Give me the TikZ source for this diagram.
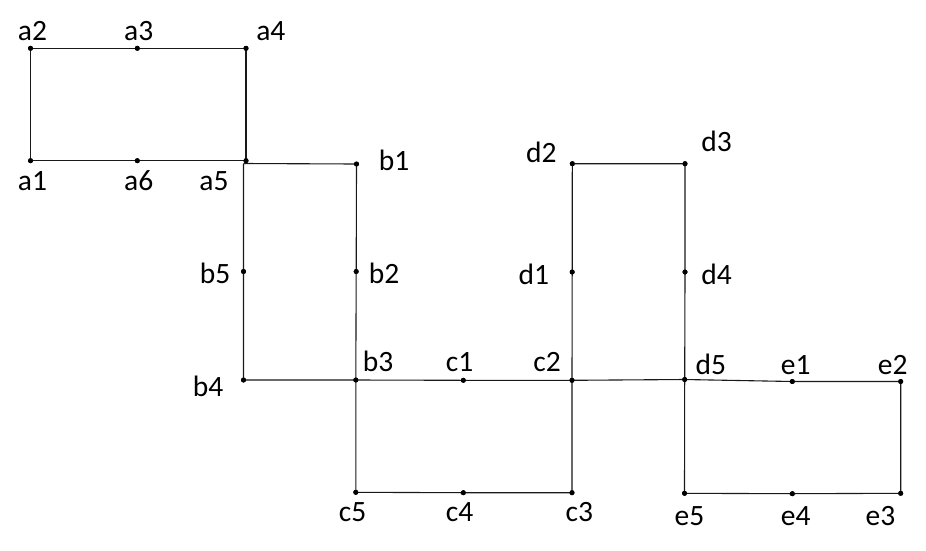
\documentclass[tikz,border=0pt]{standalone}
\usepackage{fontspec}
\setmainfont{Carlito}
\begin{document}
\begin{tikzpicture}[x=1pt,y=-1pt,
  pt/.style={circle,fill=black,inner sep=0pt,minimum size=5pt},
  lbl/.style={anchor=base,inner sep=0pt,font=\fontsize{29.5}{34}\selectfont},
  edge/.style={draw=black!90,line width=1.1pt}]
\useasboundingbox (0,0) rectangle (926,550);
% points
\node[pt] (a1) at (30.5,160.7) {};
\node[pt] (a2) at (30.5,48.3) {};
\node[pt] (a3) at (137.3,48.3) {};
\node[pt] (a4) at (246,48.3) {};
\node[pt] (a5) at (246,160.7) {};
\node[pt] (a6) at (137.3,160.7) {};
\coordinate (bc) at (243.5,163.5);
\node[pt] (b1) at (356.5,164) {};
\node[pt] (b2) at (356.2,271.5) {};
\node[pt] (b3) at (355.8,380) {};
\node[pt] (b4) at (243.5,380) {};
\node[pt] (b5) at (243.5,271.5) {};
\node[pt] (c1) at (463.3,380.3) {};
\node[pt] (c2) at (572,380.3) {};
\node[pt] (c3) at (572,492.7) {};
\node[pt] (c4) at (463.3,492.7) {};
\node[pt] (c5) at (355.8,492.3) {};
\node[pt] (d1) at (572.2,272) {};
\node[pt] (d2) at (572.3,163.7) {};
\node[pt] (d3) at (685,163.7) {};
\node[pt] (d4) at (685,272) {};
\node[pt] (d5) at (684.7,379.5) {};
\node[pt] (e1) at (792.3,381.5) {};
\node[pt] (e2) at (900.7,381.5) {};
\node[pt] (e3) at (900.7,493.3) {};
\node[pt] (e4) at (792.3,493.7) {};
\node[pt] (e5) at (684.5,493.3) {};
% edges
\draw[edge] (a1.center) -- (a2.center) -- (a3.center) -- (a4.center) -- (a5.center) -- (a6.center) -- (a1.center);
\draw[edge] (bc) -- (b1.center) -- (b2.center) -- (b3.center) -- (b4.center) -- (b5.center) -- (bc);
\draw[edge] (b3.center) -- (c1.center) -- (c2.center) -- (c3.center) -- (c4.center) -- (c5.center) -- (b3.center);
\draw[edge] (c2.center) -- (d1.center) -- (d2.center) -- (d3.center) -- (d4.center) -- (d5.center) -- (c2.center);
\draw[edge] (d5.center) -- (e1.center) -- (e2.center) -- (e3.center) -- (e4.center) -- (e5.center) -- (d5.center);
% redraw dots on top
\foreach \p in {a1,a2,a3,a4,a5,a6,b1,b2,b3,b4,b5,c1,c2,c3,c4,c5,d1,d2,d3,d4,d5,e1,e2,e3,e4,e5}
  \fill (\p) circle (2.5pt);
% labels
\node[lbl] (la2) at (32.5,40) {a2};
\node[lbl] (la3) at (138.7,40) {a3};
\node[lbl] (la4) at (270.8,40) {a4};
\node[lbl] (la1) at (32.5,190) {a1};
\node[lbl] (la6) at (138.7,190) {a6};
\node[lbl] (la5) at (214,190) {a5};
\node[lbl] (lb1) at (394,170.7) {b1};
\node[lbl] (lb5) at (215,283.3) {b5};
\node[lbl] (lb2) at (384,283.3) {b2};
\node[lbl] (lb3) at (378,371.7) {b3};
\node[lbl] (lb4) at (208,396) {b4};
\node[lbl] (lc1) at (459.7,371.7) {c1};
\node[lbl] (lc2) at (547,371.7) {c2};
\node[lbl] (lc5) at (352.7,521.7) {c5};
\node[lbl] (lc4) at (459.7,521.7) {c4};
\node[lbl] (lc3) at (579.3,521.7) {c3};
\node[lbl] (ld2) at (541.3,162.7) {d2};
\node[lbl] (ld3) at (716.7,151.7) {d3};
\node[lbl] (ld1) at (533.8,284) {d1};
\node[lbl] (ld4) at (716.7,284) {d4};
\node[lbl] (ld5) at (710.8,374) {d5};
\node[lbl] (le1) at (795.7,374) {e1};
\node[lbl] (le2) at (892.8,374) {e2};
\node[lbl] (le5) at (689.5,525) {e5};
\node[lbl] (le4) at (795.7,525) {e4};
\node[lbl] (le3) at (880.5,525) {e3};
\end{tikzpicture}
\end{document}
